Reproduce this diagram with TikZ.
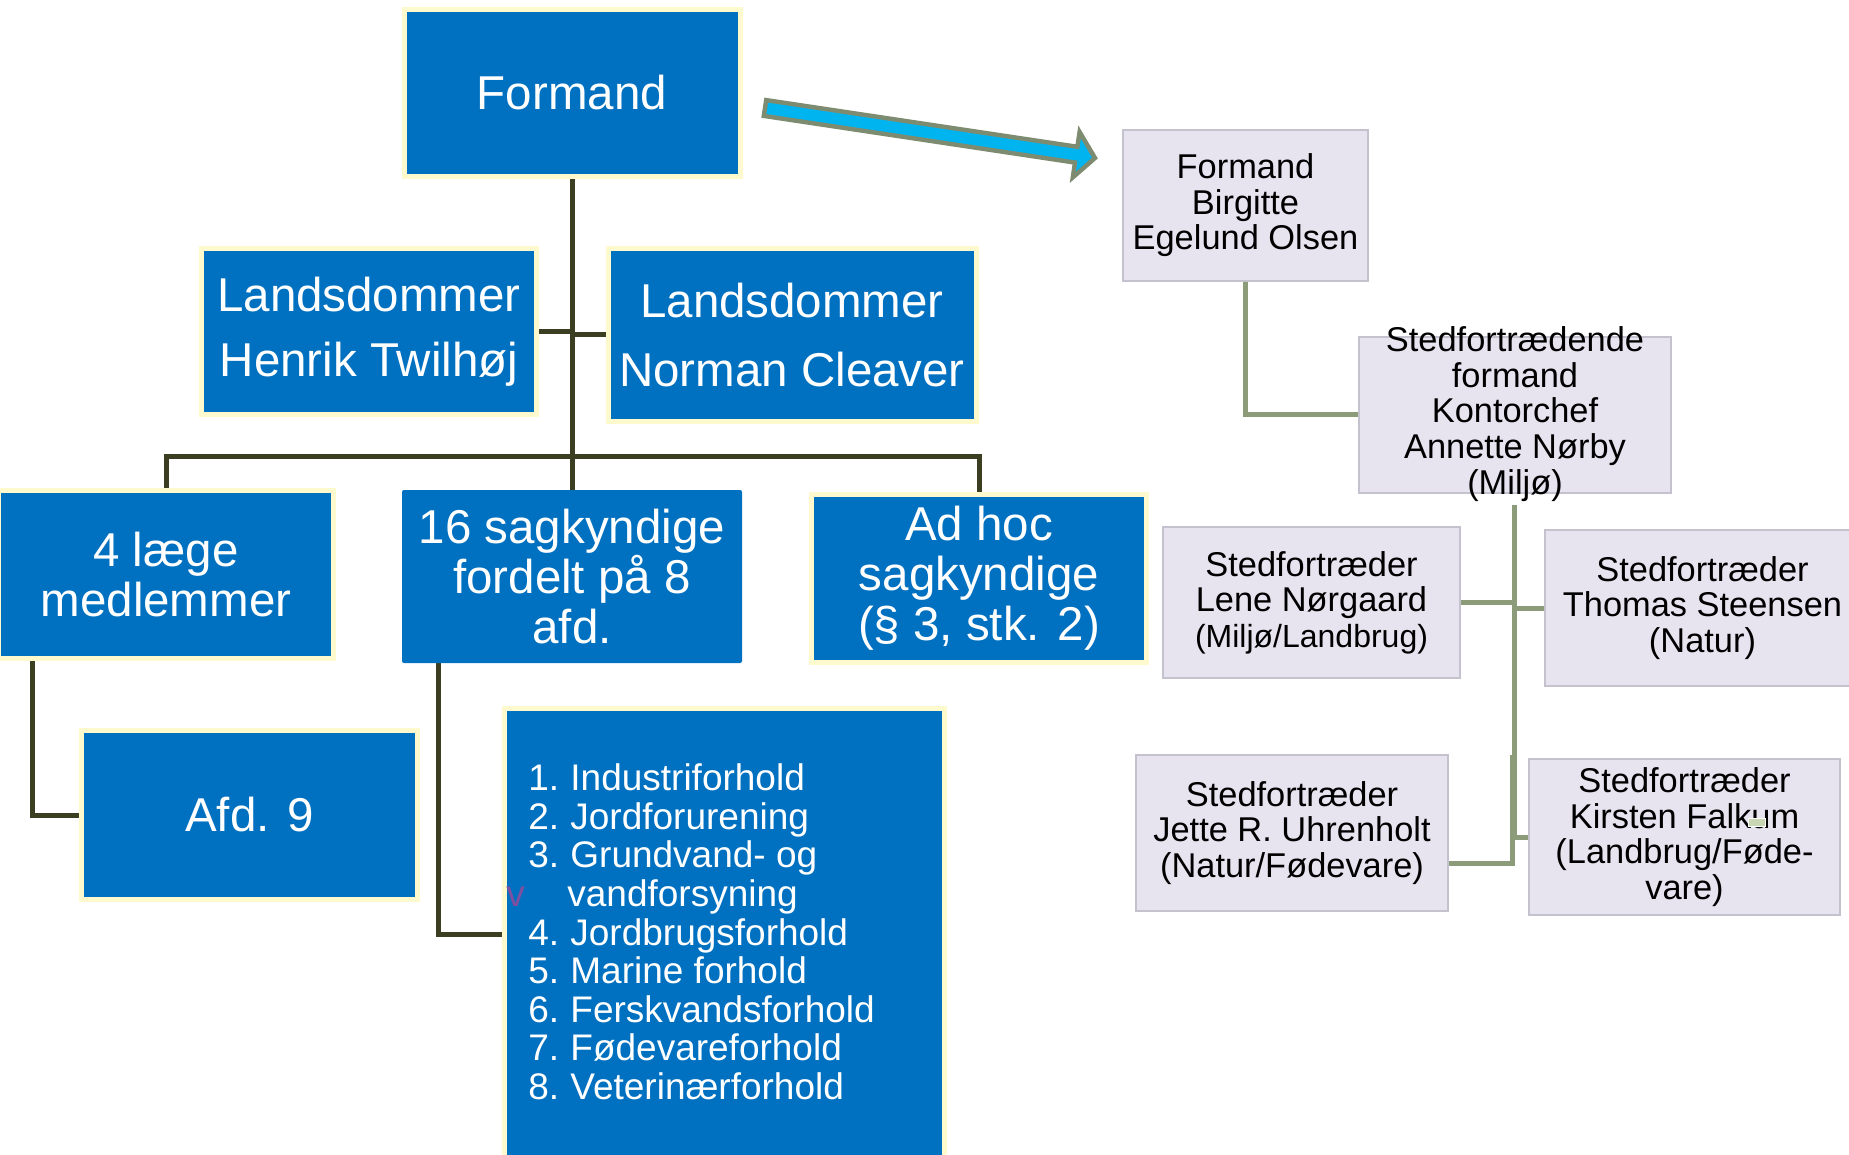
\documentclass[tikz,border=0pt]{standalone}
\usepackage{fontspec}
\setmainfont{Liberation Sans}
\usetikzlibrary{calc}
\definecolor{boxblue}{RGB}{0,112,192}
\definecolor{glow}{RGB}{255,250,205}
\definecolor{trunk}{RGB}{60,62,34}
\definecolor{sage}{RGB}{140,156,122}
\definecolor{lav}{RGB}{231,228,240}
\definecolor{lavline}{RGB}{196,194,206}
\definecolor{arrowfill}{RGB}{0,180,240}
\definecolor{arrowline}{RGB}{125,140,112}
\definecolor{vpurple}{RGB}{125,80,160}
\definecolor{glitch}{RGB}{200,214,180}
\pgfdeclarelayer{back}
\pgfdeclarelayer{lines}
\pgfsetlayers{back,lines,main}
\begin{document}
\begin{tikzpicture}[x=0.5pt,y=-0.5pt,
 bluebox/.style={fill=boxblue,draw=glow,line width=2.5pt,text=white,inner sep=0pt,outer sep=0pt,align=center},
 plainblue/.style={fill=boxblue,rounded corners=1pt,text=white,inner sep=0pt,outer sep=0pt,align=center},
 lavbox/.style={fill=lav,draw=lavline,line width=1pt,text=black,inner sep=0pt,outer sep=0pt,align=center,font=\fontsize{17.2}{17.8}\selectfont},
 lavtext/.style={text=black,inner sep=0pt,align=center,font=\fontsize{17.2}{17.8}\selectfont},
 bigtext/.style={font=\fontsize{23.75}{25}\selectfont},
 darkline/.style={draw=trunk,line width=2.5pt},
 sageline/.style={draw=sage,line width=2.5pt},
]
\useasboundingbox (0,0) rectangle (1849,1155);
\begin{pgfonlayer}{back}
\fill[white] (0,0) rectangle (1849,1155);
\end{pgfonlayer}

% blue boxes
\node[bluebox,bigtext,minimum width=168pt,minimum height=83.5pt] (formand) at (572,93) {Formand};
\node[bluebox,font=\fontsize{23.75}{32.5}\selectfont,minimum width=167.5pt,minimum height=83.25pt] (lands1) at (369,331.75) {Landsdommer\\Henrik Twilhøj};
\node[bluebox,font=\fontsize{23.75}{34.5}\selectfont,minimum width=184pt,minimum height=86.5pt] (lands2) at (792,335) {Landsdommer\\Norman Cleaver};
\node[bluebox,bigtext,minimum width=167.5pt,minimum height=84pt] (laege) at (166,574.5) {4 læge\\medlemmer};
\node[plainblue,bigtext,minimum width=170pt,minimum height=86.5pt] (sag) at (572,576.5) {16 sagkyndige\\fordelt på 8\\afd.};
\node[bluebox,bigtext,minimum width=167.5pt,minimum height=84pt] (adhoc) at (979,578) {Ad hoc\\sagkyndige\\(§ 3, stk. 2)};
\node[bluebox,bigtext,minimum width=168pt,minimum height=84.25pt] (afd) at (249.5,815) {Afd. 9};
\node[bluebox,minimum width=219.75pt,minimum height=225.75pt] (list) at (724.25,934.25) {};
\node[anchor=west,inner sep=0pt,text=white,font=\fontsize{18.5}{19.3}\selectfont] (listtext) at (528,937.3) {%
\begin{tabular}{@{}l@{}l@{}}
\makebox[21pt][l]{1.} & Industriforhold\\
\makebox[21pt][l]{2.} & Jordforurening\\
\makebox[21pt][l]{3.} & Grundvand- og\\
 & \hspace{-1.5pt}vandforsyning\\
\makebox[21pt][l]{4.} & Jordbrugsforhold\\
\makebox[21pt][l]{5.} & Marine forhold\\
\makebox[21pt][l]{6.} & Ferskvandsforhold\\
\makebox[21pt][l]{7.} & Fødevareforhold\\
\makebox[21pt][l]{8.} & Veterinærforhold
\end{tabular}};
\node[inner sep=0pt,text=vpurple,font=\fontsize{18.5}{19.3}\selectfont] (vmark) at (515.5,897) {v};

% dark connectors
\begin{pgfonlayer}{lines}
\coordinate (bar) at (572,457);
\draw[darkline] (formand.south) -- (sag.north);
\draw[darkline] (lands1.east) -- (lands1.east -| formand.south);
\draw[darkline] (lands2.west) -- (lands2.west -| formand.south);
\draw[darkline] (laege.north) |- (bar) -| (adhoc.north);
\draw[darkline] ($(laege.south west)+(33.5,0)$) |- (afd.west);
\draw[darkline] ($(sag.south west)+(36,0)$) |- (list.west);
\end{pgfonlayer}

% arrow
\draw[fill=arrowfill,draw=arrowline,line width=2.2pt,line join=miter]
 (766.2,100.1) -- (1077.4,146.8) -- (1079.6,132.0) -- (1095,158) -- (1072.8,177.4) -- (1075.0,162.6) -- (763.8,115.9) -- cycle;

% lavender boxes
\node[lavbox,minimum width=122.5pt,minimum height=75.5pt] (fb) at (1245.5,205.5) {Formand\\Birgitte\\Egelund Olsen};
\node[lavbox,minimum width=156pt,minimum height=78pt] (sf) at (1515,415) {};
\node[lavtext] (sft) at (1515,414) {Stedfortrædende\\formand\\Kontorchef\\Annette Nørby\\(Miljø)};
\node[lavbox,minimum width=148.5pt,minimum height=75.5pt] (lene) at (1311.5,602.5) {Stedfortræder\\Lene Nørgaard\\{\fontsize{16}{17.8}\selectfont(Miljø/Landbrug)}};
\node[lavbox,minimum width=157.5pt,minimum height=78pt] (thomas) at (1702.5,608) {Stedfortræder\\Thomas Steensen\\(Natur)};
\node[lavbox,minimum width=156pt,minimum height=78pt] (jette) at (1292,833) {Stedfortræder\\Jette R. Uhrenholt\\(Natur/Fødevare)};
\node[lavbox,minimum width=155.5pt,minimum height=78pt] (kirsten) at (1684.5,837) {Stedfortræder\\Kirsten Falkum\\(Landbrug/Føde-\\vare)};
\fill[glitch,draw=white,line width=0.4pt] (1748,818) rectangle (1765,826);

% sage connectors
\begin{pgfonlayer}{lines}
\coordinate (sfb) at ($(sf.south)+(-0.5,12)$);
\coordinate (jt) at ($(sf.south)+(-2.5,262)$);
\draw[sageline] (fb.south) |- (sf.west);
\draw[sageline] (sfb) |- (lene.east);
\draw[sageline] (sfb) |- (thomas.west);
\draw[sageline] (sfb) |- (kirsten.west);
\draw[sageline] (jt) |- ($(jette.east)+(0,30)$);
\end{pgfonlayer}
\end{tikzpicture}
\end{document}
